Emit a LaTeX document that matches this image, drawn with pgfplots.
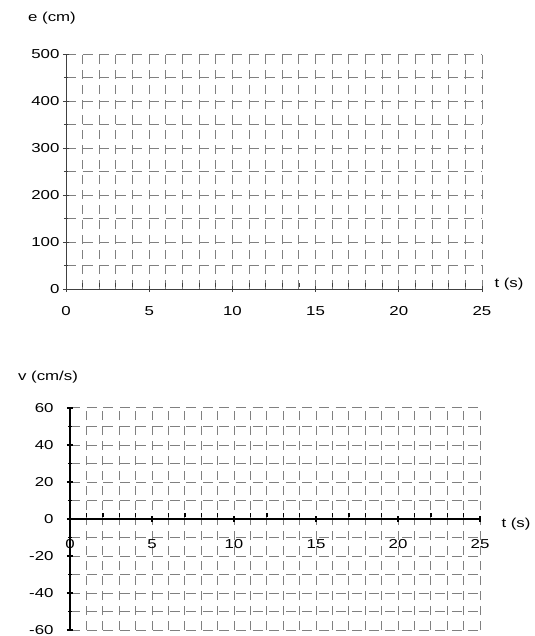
\documentclass[border=0pt]{standalone}
\usepackage{fontspec}
\setmainfont{Liberation Sans}[FakeStretch=1.3]
\usepackage{pgfplots}
\pgfplotsset{compat=1.18}

\pgfplotsset{
  emptygrid/.style={
    scale only axis, clip=false,
    xmin=0, xmax=25,
    xtick={0,5,...,25}, minor x tick num=4,
    minor y tick num=1,
    grid=both,
    major x grid style={gray, line width=1bp, dash pattern=on 9bp off 6bp},
    minor x grid style={gray, line width=1bp, dash pattern=on 9bp off 6bp},
    major y grid style={gray, line width=1bp, dash pattern=on 10bp off 6.6bp},
    minor y grid style={gray, line width=1bp, dash pattern=on 10bp off 6.6bp},
    tick align=outside,
    major tick length=6bp, minor tick length=4bp,
    minor x tick style={yshift=4bp},
    hide obscured x ticks=false, hide obscured y ticks=false,
    /pgf/number format/assume math mode=true,
    tick label style={font=\fontsize{13}{15}\selectfont},
  }
}

\begin{document}
\begin{tikzpicture}[font=\fontsize{13}{15}\selectfont]
\path[use as bounding box] (0,0) rectangle (535bp,-636bp);

% position
\begin{axis}[emptygrid,
  at={(66bp,-289bp)}, anchor=south west,
  width=416bp, height=235bp,
  ymin=0, ymax=500, ytick={0,100,...,500},
  axis x line=bottom, axis y line=left,
  axis line style={black!75, line width=0.9bp, -},
  tick style={black!75, line width=0.9bp},
  xticklabel style={yshift=-11bp},
]
\end{axis}
\node at (52bp,-18bp) {e (cm)};
\node at (509bp,-284bp) {t (s)};

% velocity
\begin{axis}[emptygrid,
  at={(70bp,-630bp)}, anchor=south west,
  width=410bp, height=222bp,
  ymin=-60, ymax=60, ytick={-60,-40,...,60},
  axis x line=middle, axis y line=left,
  axis line style={black, line width=1.7bp, -},
  tick style={black, line width=1.4bp},
  xticklabel style={yshift=-14bp},
  yticklabel style={xshift=-10bp},
]
\end{axis}
\node at (48bp,-377bp) {v (cm/s)};
\node at (516bp,-524bp) {t (s)};
\end{tikzpicture}
\end{document}
